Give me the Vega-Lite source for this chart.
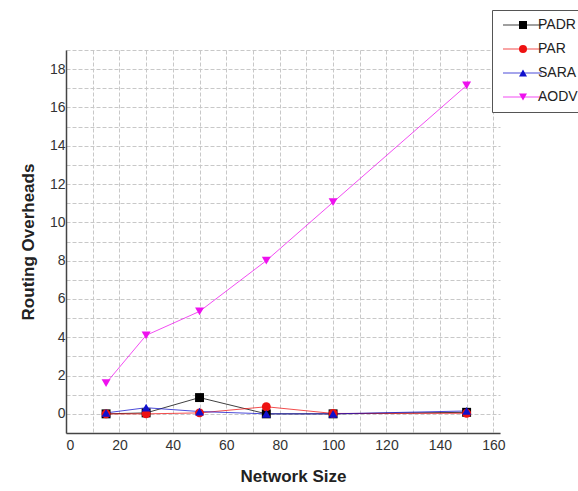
{
  "$schema": "https://vega.github.io/schema/vega-lite/v6.json",
  "width": 434,
  "height": 383,
  "autosize": "none",
  "padding": {"left": 66, "top": 50, "right": 78, "bottom": 58},
  "background": "white",
  "title": {"text": "Network Size .vs. Overheads", "fontSize": 17, "font": "Liberation Sans", "fontWeight": "bold", "color": "#222", "offset": 16, "dx": 7, "anchor": "middle"},
  "data": {"values": [
    {"series": "PADR", "size": 15, "overhead": 0.0},
    {"series": "PADR", "size": 30, "overhead": 0.05},
    {"series": "PADR", "size": 50, "overhead": 0.85},
    {"series": "PADR", "size": 75, "overhead": 0.0},
    {"series": "PADR", "size": 100, "overhead": 0.0},
    {"series": "PADR", "size": 150, "overhead": 0.08},
    {"series": "PAR", "size": 15, "overhead": 0.0},
    {"series": "PAR", "size": 30, "overhead": 0.0},
    {"series": "PAR", "size": 50, "overhead": 0.05},
    {"series": "PAR", "size": 75, "overhead": 0.37},
    {"series": "PAR", "size": 100, "overhead": 0.02},
    {"series": "PAR", "size": 150, "overhead": 0.03},
    {"series": "SARA", "size": 15, "overhead": 0.05},
    {"series": "SARA", "size": 30, "overhead": 0.32},
    {"series": "SARA", "size": 50, "overhead": 0.12},
    {"series": "SARA", "size": 75, "overhead": 0.0},
    {"series": "SARA", "size": 100, "overhead": 0.0},
    {"series": "SARA", "size": 150, "overhead": 0.15},
    {"series": "AODV", "size": 15, "overhead": 1.6},
    {"series": "AODV", "size": 30, "overhead": 4.1},
    {"series": "AODV", "size": 50, "overhead": 5.35},
    {"series": "AODV", "size": 75, "overhead": 8.0},
    {"series": "AODV", "size": 100, "overhead": 11.05},
    {"series": "AODV", "size": 150, "overhead": 17.15}
  ]},
  "encoding": {
    "x": {
      "field": "size", "type": "quantitative",
      "scale": {"domain": [0, 162.5], "nice": false, "zero": false},
      "axis": {
        "title": "Network Size",
        "values": [0, 10, 20, 30, 40, 50, 60, 70, 80, 90, 100, 110, 120, 130, 140, 150, 160],
        "labelExpr": "datum.value % 20 == 0 ? datum.label : ''",
        "titleX": 227,
        "titlePadding": 16
      }
    },
    "y": {
      "field": "overhead", "type": "quantitative",
      "scale": {"domain": [-1, 19], "nice": false, "zero": false},
      "axis": {
        "title": "Routing Overheads",
        "values": [-1, 0, 1, 2, 3, 4, 5, 6, 7, 8, 9, 10, 11, 12, 13, 14, 15, 16, 17, 18, 19],
        "labelExpr": "(datum.value % 2 == 0 && datum.value >= 0 && datum.value <= 18) ? datum.label : ''",
        "labelPadding": 1,
        "titlePadding": 12
      }
    },
    "color": {
      "field": "series", "type": "nominal",
      "scale": {"domain": ["PADR", "PAR", "SARA", "AODV"], "range": ["#000000", "#ee1111", "#1010cc", "#ee11ee"]}
    }
  },
  "layer": [
    {
      "mark": {"type": "line", "strokeWidth": 1, "opacity": 0.75},
      "encoding": {
        "color": {
          "field": "series", "type": "nominal", "sort": ["PADR", "PAR", "SARA", "AODV"],
          "legend": {
            "orient": "none", "legendX": 426, "legendY": -40, "title": null,
            "symbolType": "M-0.8,0H7", "symbolSize": 100, "symbolStrokeWidth": 1,
            "labelFontSize": 14, "labelFont": "Liberation Sans", "labelColor": "#222",
            "labelOffset": 24, "padding": 8, "rowPadding": 10,
            "strokeColor": "#555", "fillColor": "white"
          }
        }
      }
    },
    {
      "mark": {"type": "point", "filled": true, "size": 80, "opacity": 1},
      "encoding": {
        "shape": {
          "field": "series", "type": "nominal",
          "scale": {"domain": ["PADR", "PAR", "SARA", "AODV"], "range": ["square", "circle", "triangle-up", "triangle-down"]},
          "legend": {
            "orient": "none", "legendX": 426, "legendY": -40, "title": null,
            "symbolSize": 64, "symbolOffset": 16, "symbolStrokeWidth": 0,
            "labelFontSize": 14, "labelFont": "Liberation Sans", "labelOpacity": 0,
            "labelOffset": 24, "padding": 8, "rowPadding": 10
          }
        },
        "color": {
          "field": "series", "type": "nominal",
          "legend": {
            "orient": "none", "legendX": 426, "legendY": -40, "title": null,
            "symbolSize": 64, "symbolOffset": 16, "symbolStrokeWidth": 0,
            "labelFontSize": 14, "labelFont": "Liberation Sans", "labelOpacity": 0,
            "labelOffset": 24, "padding": 8, "rowPadding": 10
          }
        }
      }
    }
  ],
  "resolve": {"legend": {"color": "independent", "shape": "independent"}},
  "config": {
    "view": {"stroke": null},
    "axis": {
      "domainColor": "#444", "domainWidth": 1.5, "ticks": false,
      "gridColor": "#c8c8c8", "gridDash": [4, 2], "gridWidth": 1,
      "labelFont": "Liberation Sans", "labelFontSize": 14, "labelColor": "#333",
      "titleFont": "Liberation Sans", "titleFontSize": 17, "titleFontWeight": "bold", "titleColor": "#222"
    },
    "axisX": {"labelPadding": 5}
  }
}
